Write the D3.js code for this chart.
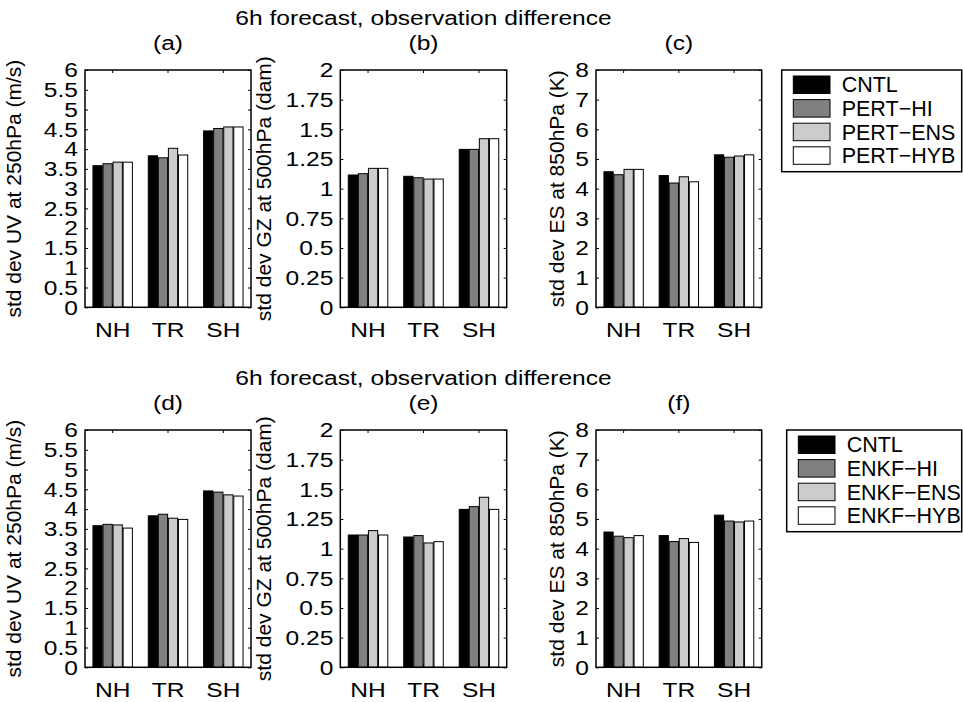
<!DOCTYPE html>
<html><head><meta charset="utf-8">
<script src="https://cdn.jsdelivr.net/npm/d3@7"></script>
<style>
body{margin:0;background:#fff}
text{font-family:"Liberation Sans",Arial,Helvetica,sans-serif;fill:#000}
</style>
</head><body>
<svg id="c" width="963" height="702"></svg>
<script>
// ---------------- data ----------------
const categories = ["NH", "TR", "SH"];
const seriesTop = ["CNTL", "PERT\u2212HI", "PERT\u2212ENS", "PERT\u2212HYB"];
const seriesBottom = ["CNTL", "ENKF\u2212HI", "ENKF\u2212ENS", "ENKF\u2212HYB"];
const seriesColors = ["#000000", "#808080", "#cccccc", "#ffffff"];

// top row (PERT experiments); each inner array = one series over NH, TR, SH
const uvTop = [[3.58, 3.83, 4.46], [3.63, 3.78, 4.52], [3.67, 4.02, 4.56], [3.67, 3.85, 4.56]];
const gzTop = [[1.115, 1.104, 1.331], [1.126, 1.092, 1.331], [1.171, 1.081, 1.421], [1.171, 1.081, 1.421]];
const esTop = [[4.57, 4.44, 5.14], [4.47, 4.19, 5.06], [4.65, 4.40, 5.10], [4.65, 4.23, 5.14]];
// bottom row (ENKF experiments)
const uvBottom = [[3.58, 3.83, 4.46], [3.615, 3.87, 4.43], [3.60, 3.77, 4.36], [3.52, 3.74, 4.33]];
const gzBottom = [[1.115, 1.098, 1.331], [1.115, 1.11, 1.354], [1.152, 1.048, 1.433], [1.115, 1.059, 1.331]];
const esBottom = [[4.56, 4.44, 5.13], [4.42, 4.24, 4.93], [4.37, 4.34, 4.90], [4.44, 4.21, 4.93]];

const uvTicks = [0, 0.5, 1, 1.5, 2, 2.5, 3, 3.5, 4, 4.5, 5, 5.5, 6];
const uvTickLabels = ["0", "0.5", "1", "1.5", "2", "2.5", "3", "3.5", "4", "4.5", "5", "5.5", "6"];
const gzTicks = [0, 0.25, 0.5, 0.75, 1, 1.25, 1.5, 1.75, 2];
const gzTickLabels = ["0", "0.25", "0.5", "0.75", "1", "1.25", "1.5", "1.75", "2"];
const esTicks = [0, 1, 2, 3, 4, 5, 6, 7, 8];
const esTickLabels = ["0", "1", "2", "3", "4", "5", "6", "7", "8"];

const figTitle = "6h forecast, observation difference";
const panelLabels = ["(a)", "(b)", "(c)", "(d)", "(e)", "(f)"];
const yLabels = ["std dev UV at 250hPa (m/s)", "std dev GZ at 500hPa (dam)", "std dev ES at 850hPa (K)"];

// ---------------- layout ----------------
const svg = d3.select("#c");
const FS = 21;     // font size
const SX = 1.17;   // horizontal stretch of the axis texts
const cols = [{x0: 85, x1: 251, lx: 21}, {x0: 340.3, x1: 506.7, lx: 271}, {x0: 596, x1: 761.7, lx: 564}];
const rows = [{y0: 70, y1: 307.3, tY: 25, sY: 50}, {y0: 430, y1: 667.3, tY: 385, sY: 410}];

function stretchedText(parent, x, y, str, anchor) {
  return parent.append("text")
    .attr("transform", `translate(${x},${y}) scale(${SX},1)`)
    .attr("text-anchor", anchor).attr("font-size", FS).text(str);
}

function panel(col, row, values, ticks, tickLabels, ylabel, sublabel) {
  const g = svg.append("g");
  const x = d3.scaleBand().domain(categories).range([col.x0, col.x1])
    .paddingInner(0.2727).paddingOuter(0.13636);
  const sub = d3.scaleBand().domain(d3.range(values.length)).range([0, x.bandwidth()]);
  const y = d3.scaleLinear().domain([ticks[0], ticks[ticks.length - 1]]).range([row.y1, row.y0]);

  // bars
  values.forEach((ser, i) => {
    g.append("g").selectAll("rect").data(ser).join("rect")
      .attr("x", (d, j) => x(categories[j]) + sub(i) + sub.bandwidth() * 0.04)
      .attr("width", sub.bandwidth() * 0.92)
      .attr("y", d => y(d))
      .attr("height", d => y(0) - y(d))
      .attr("fill", seriesColors[i])
      .attr("stroke", "#000").attr("stroke-width", 1);
  });

  // axes
  const left = d3.axisLeft(y).tickValues(ticks).tickFormat((d, i) => tickLabels[i])
    .tickSizeInner(-3).tickSizeOuter(0).tickPadding(7);
  const ga = g.append("g").attr("transform", `translate(${col.x0},0)`).call(left);
  ga.select(".domain").remove();
  ga.selectAll("text").attr("font-size", FS).attr("font-family", null)
    .attr("x", -7 / SX).attr("transform", `scale(${SX},1)`);
  const right = d3.axisRight(y).tickValues(ticks).tickFormat("").tickSizeInner(-3).tickSizeOuter(0);
  const gr = g.append("g").attr("transform", `translate(${col.x1},0)`).call(right);
  gr.select(".domain").remove();
  const bottom = d3.axisBottom(x).tickSizeInner(-3).tickSizeOuter(0).tickPadding(15);
  const gb = g.append("g").attr("transform", `translate(0,${row.y1})`).call(bottom);
  gb.select(".domain").remove();
  gb.selectAll("text").attr("font-size", FS).attr("font-family", null)
    .attr("transform", `scale(${SX},1)`);
  const top = d3.axisTop(x).tickFormat("").tickSizeInner(-3).tickSizeOuter(0);
  const gt = g.append("g").attr("transform", `translate(0,${row.y0})`).call(top);
  gt.select(".domain").remove();
  g.selectAll(".tick line").attr("stroke", "#000");

  g.append("rect").attr("x", col.x0).attr("y", row.y0)
    .attr("width", col.x1 - col.x0).attr("height", row.y1 - row.y0)
    .attr("fill", "none").attr("stroke", "#000").attr("stroke-width", 1.5);

  g.append("text")
    .attr("transform", `translate(${col.lx},${(row.y0 + row.y1) / 2}) rotate(-90)`)
    .attr("text-anchor", "middle").attr("font-size", FS).text(ylabel);
  stretchedText(g, (col.x0 + col.x1) / 2, row.sY, sublabel, "middle");
}

function legend(x0, y0, w, h, names) {
  const g = svg.append("g");
  g.append("rect").attr("x", x0).attr("y", y0).attr("width", w).attr("height", h)
    .attr("fill", "#fff").attr("stroke", "#000").attr("stroke-width", 1.5);
  names.forEach((n, i) => {
    const yy = y0 + 6 + i * 23.6;
    g.append("rect").attr("x", x0 + 11.6).attr("y", yy).attr("width", 36.7).attr("height", 17.5)
      .attr("fill", seriesColors[i]).attr("stroke", "#000").attr("stroke-width", 1);
    g.append("text").attr("x", x0 + 60).attr("y", yy + 8.75).attr("dy", "0.36em")
      .attr("font-size", FS + 0.5).text(n);
  });
}

const topData = [uvTop, gzTop, esTop];
const bottomData = [uvBottom, gzBottom, esBottom];
const tickSets = [uvTicks, gzTicks, esTicks];
const tickLabelSets = [uvTickLabels, gzTickLabels, esTickLabels];

[topData, bottomData].forEach((rowData, r) => {
  stretchedText(svg, (cols[1].x0 + cols[1].x1) / 2, rows[r].tY, figTitle, "middle");
  rowData.forEach((vals, c) => {
    panel(cols[c], rows[r], vals, tickSets[c], tickLabelSets[c], yLabels[c], panelLabels[r * 3 + c]);
  });
});

legend(781.7, 70, 180, 101.7, seriesTop);
legend(786.7, 430, 175, 101.7, seriesBottom);
</script>
</body></html>
